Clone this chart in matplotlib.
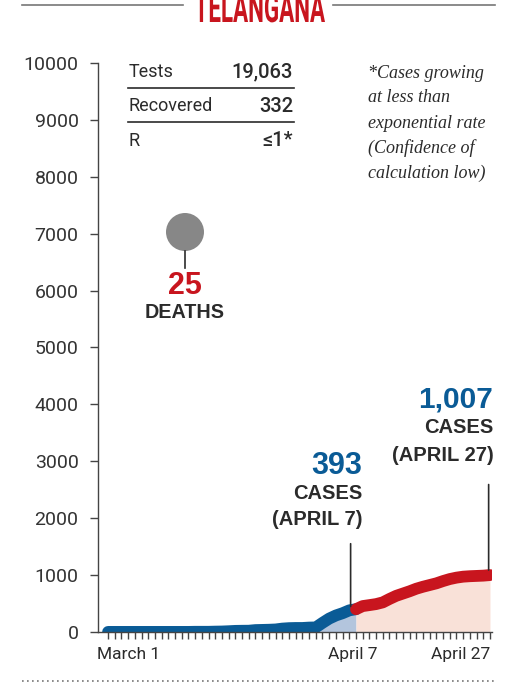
import numpy as np
import matplotlib
matplotlib.use('Agg')
from matplotlib import pyplot as plt
from matplotlib.lines import Line2D
from matplotlib.patches import Ellipse, PathPatch
from matplotlib.textpath import TextPath
from matplotlib.font_manager import FontProperties
from matplotlib.transforms import Affine2D, IdentityTransform

# cumulative cases, one value per day from March 1 (day 0) to April 27 (day 57)
cases = [1, 1, 1, 1, 1, 1, 1, 1, 1, 1, 1, 1, 1, 3, 3, 3, 6, 8, 13, 19,
         21, 22, 33, 36, 39, 44, 59, 67, 70, 70, 77, 80, 160, 235, 290, 330,
         380, 400, 455, 472, 490, 520, 580, 635, 675, 715, 760, 795, 825, 855,
         895, 930, 955, 972, 980, 985, 990, 1000]
split_day = 37  # April 7
date_labels = ['March 1', 'April 7', 'April 27']
date_days = [0, 37, 57]
yticks = np.arange(0, 10001, 1000)
table_rows = [('Tests', '19,063'), ('Recovered', '332'), ('R', '≤1*')]
note_lines = ['*Cases growing', 'at less than', 'exponential rate',
              '(Confidence of', 'calculation low)']

blue = '#0a5b96'
red = '#c8151e'
lightblue = '#b3c5dd'
peach = '#f9e1d8'
dark = '#2b2b2b'
bold_font = 'Liberation Sans'

plt.rcParams['font.family'] = ['Roboto', 'DejaVu Sans']

fig = plt.figure(figsize=(5.11, 6.97), dpi=100)
ax = fig.add_axes([0.1918, 0.0933, 0.771, 0.8163])

days = np.arange(len(cases))
y = np.array(cases)
b = days <= split_day
r = days >= split_day
ax.fill_between(days[b], 0, y[b], color=lightblue, lw=0)
ax.fill_between(days[r], 0, y[r], color=peach, lw=0)
ax.plot(days[b], y[b], color=blue, lw=8.5, solid_capstyle='round', solid_joinstyle='round')
ax.plot(days[r], y[r], color=red, lw=8.5, solid_capstyle='round', solid_joinstyle='round')

ax.set_xlim(-1.5, 57.3)
ax.set_ylim(0, 10000)
for s in ['top', 'right']:
    ax.spines[s].set_visible(False)
for s in ['left', 'bottom']:
    ax.spines[s].set_color('#444444')
    ax.spines[s].set_linewidth(1)
ax.set_yticks(yticks)
ax.set_yticklabels([str(v) for v in yticks], fontsize=14, color='#333333')
ax.tick_params(axis='y', length=6, width=1, color='#444444', pad=8)
ax.set_xticks(days)
ax.set_xticklabels([])
ax.tick_params(axis='x', length=5, width=1, color='#444444')

tr = ax.get_xaxis_transform()
ax.text(-1.6, -0.027, date_labels[0], transform=tr, ha='left', va='top', fontsize=12.5, color=dark)
ax.text(date_days[1] - 0.5, -0.027, date_labels[1], transform=tr, ha='center', va='top', fontsize=12.5, color=dark)
ax.text(57.1, -0.027, date_labels[2], transform=tr, ha='right', va='top', fontsize=12.5, color=dark)

# annotations
ax.annotate('', xy=(36.2, 400), xytext=(36.2, 1600),
            arrowprops=dict(arrowstyle='-', color=dark, lw=1.2))
ax.text(37.9, 2920, '393', ha='right', va='center', fontsize=22, fontweight='bold', color=blue, family=bold_font)
ax.text(37.9, 2440, 'CASES', ha='right', va='center', fontsize=14.5, fontweight='bold', color=dark, family=bold_font)
ax.text(37.9, 1970, '(APRIL 7)', ha='right', va='center', fontsize=14.5, fontweight='bold', color=dark, family=bold_font)
ax.annotate('', xy=(56.8, 1040), xytext=(56.8, 2640),
            arrowprops=dict(arrowstyle='-', color=dark, lw=1.2))
ax.text(57.5, 4080, '1,007', ha='right', va='center', fontsize=21.5, fontweight='bold', color=blue, family=bold_font)
ax.text(57.5, 3590, 'CASES', ha='right', va='center', fontsize=14.5, fontweight='bold', color=dark, family=bold_font)
ax.text(57.5, 3110, '(APRIL 27)', ha='right', va='center', fontsize=14.5, fontweight='bold', color=dark, family=bold_font)

# deaths bubble
fig.add_artist(Ellipse((185 / 511, 1 - 232 / 697), 38 / 511, 38 / 697, transform=fig.transFigure,
                       color='#878787', lw=0))
fig.add_artist(Line2D([185 / 511, 185 / 511], [1 - 251 / 697, 1 - 268 / 697], color=dark, lw=1.2))
fig.text(185 / 511, 1 - 286 / 697, '25', ha='center', va='center', fontsize=22, fontweight='bold',
         color=red, family=bold_font)
fig.text(185 / 511, 1 - 313 / 697, 'DEATHS', ha='center', va='center', fontsize=14.2, fontweight='bold',
         color=dark, family=bold_font)

# table
row_y = [72, 106, 141]
for (lab, val), yy in zip(table_rows, row_y):
    fig.text(129 / 511, 1 - yy / 697, lab, ha='left', va='center', fontsize=13, color=dark)
    fig.text(293 / 511, 1 - yy / 697, val, ha='right', va='center', fontsize=14.5, color=dark,
             fontweight='medium')
for yy in [88, 122]:
    fig.add_artist(Line2D([128 / 511, 294 / 511], [1 - yy / 697, 1 - yy / 697], color=dark, lw=1.2))

# note
for i, line in enumerate(note_lines):
    fig.text(368 / 511, 1 - (73 + 25 * i) / 697, line, ha='left', va='center', fontsize=13,
             family='Liberation Serif', style='italic', color=dark)

# title, squeezed to look condensed and cut at the top edge like the original
tp = TextPath((0, 0), 'TELANGANA', size=40, prop=FontProperties(family='Roboto', weight='bold'))
bb = tp.get_extents()
sx = 130 / bb.width
sy = 30 / bb.height
tt = Affine2D().translate(-bb.x0, 0).scale(sx, sy).translate(195, 697 - 22)
fig.add_artist(PathPatch(tp, transform=tt + IdentityTransform(), color=red, lw=0))
fig.add_artist(Line2D([22 / 511, 183 / 511], [1 - 5 / 697] * 2, color='#777777', lw=1.2))
fig.add_artist(Line2D([333 / 511, 495 / 511], [1 - 5 / 697] * 2, color='#777777', lw=1.2))
fig.add_artist(Line2D([22 / 511, 495 / 511], [1 - 681 / 697] * 2, color='#777777', lw=1.2, ls=(0, (1, 2))))

plt.savefig('out.png', dpi=100)
